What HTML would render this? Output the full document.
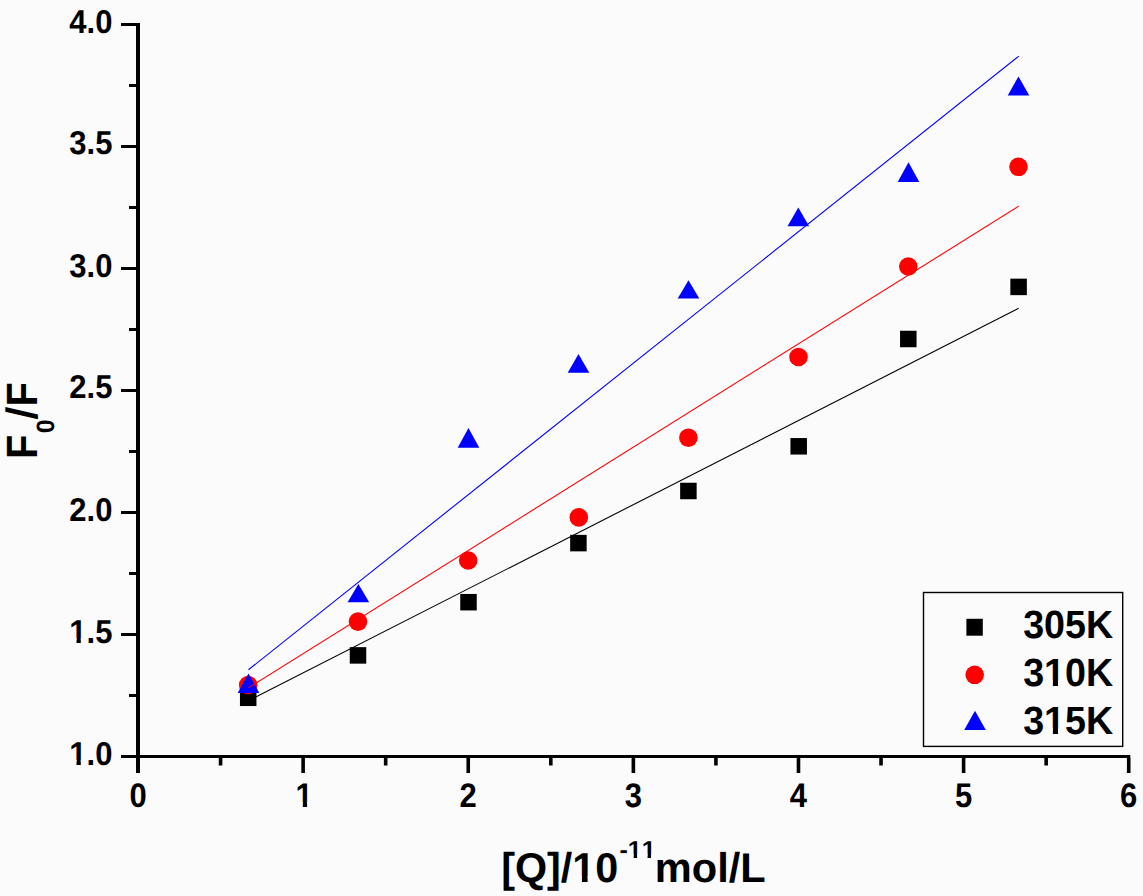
<!DOCTYPE html>
<html><head><meta charset="utf-8"><title>F0/F vs [Q]</title>
<style>
html,body{margin:0;padding:0;background:#fcfbfc;width:1143px;height:896px;overflow:hidden}
svg{display:block}
.t{font-family:"Liberation Sans",sans-serif;font-weight:bold;fill:#000;font-kerning:none;text-rendering:geometricPrecision}
</style></head><body>
<svg width="1143" height="896" viewBox="0 0 1143 896">
<rect width="1143" height="896" fill="#fcfbfc"/>
<rect x="136" y="23" width="4" height="750" fill="#000"/>
<rect x="121" y="755" width="1009.3" height="3" fill="#000"/>
<rect x="121" y="23" width="15" height="3" fill="#000"/>
<rect x="121" y="145" width="15" height="3" fill="#000"/>
<rect x="121" y="267" width="15" height="3" fill="#000"/>
<rect x="121" y="389" width="15" height="3" fill="#000"/>
<rect x="121" y="511" width="15" height="3" fill="#000"/>
<rect x="121" y="633" width="15" height="3" fill="#000"/>
<rect x="121" y="755" width="15" height="3" fill="#000"/>
<rect x="129" y="84" width="7" height="3" fill="#000"/>
<rect x="129" y="206" width="7" height="3" fill="#000"/>
<rect x="129" y="328" width="7" height="3" fill="#000"/>
<rect x="129" y="450" width="7" height="3" fill="#000"/>
<rect x="129" y="572" width="7" height="3" fill="#000"/>
<rect x="129" y="694" width="7" height="3" fill="#000"/>
<rect x="136.20" y="758" width="3.6" height="15" fill="#000"/>
<rect x="301.32" y="758" width="3.6" height="15" fill="#000"/>
<rect x="466.44" y="758" width="3.6" height="15" fill="#000"/>
<rect x="631.56" y="758" width="3.6" height="15" fill="#000"/>
<rect x="796.68" y="758" width="3.6" height="15" fill="#000"/>
<rect x="961.80" y="758" width="3.6" height="15" fill="#000"/>
<rect x="1126.92" y="758" width="3.6" height="15" fill="#000"/>
<rect x="218.76" y="758" width="3.6" height="7.5" fill="#000"/>
<rect x="383.88" y="758" width="3.6" height="7.5" fill="#000"/>
<rect x="549.00" y="758" width="3.6" height="7.5" fill="#000"/>
<rect x="714.12" y="758" width="3.6" height="7.5" fill="#000"/>
<rect x="879.24" y="758" width="3.6" height="7.5" fill="#000"/>
<rect x="1044.36" y="758" width="3.6" height="7.5" fill="#000"/>
<g transform="translate(69.31 32.80) scale(1 1.065)"><text x="0" y="0" class="t" font-size="31">4.0</text></g>
<g transform="translate(69.31 153.80) scale(1 1.065)"><text x="0" y="0" class="t" font-size="31">3.5</text></g>
<g transform="translate(69.31 276.70) scale(1 1.065)"><text x="0" y="0" class="t" font-size="31">3.0</text></g>
<g transform="translate(69.31 397.80) scale(1 1.065)"><text x="0" y="0" class="t" font-size="31">2.5</text></g>
<g transform="translate(69.31 520.80) scale(1 1.065)"><text x="0" y="0" class="t" font-size="31">2.0</text></g>
<g transform="translate(69.31 643.00) scale(1 1.065)"><text x="0" y="0" class="t" font-size="31">1.5</text><rect x="0.65" y="-4.46" width="6.58" height="5.76" fill="#fcfbfc"/><rect x="11.49" y="-4.46" width="6.19" height="5.76" fill="#fcfbfc"/></g>
<g transform="translate(69.31 764.75) scale(1 1.065)"><text x="0" y="0" class="t" font-size="31">1.0</text><rect x="0.65" y="-4.46" width="6.58" height="5.76" fill="#fcfbfc"/><rect x="11.49" y="-4.46" width="6.19" height="5.76" fill="#fcfbfc"/></g>
<g transform="translate(129.38 806.80) scale(1 1.1)"><text x="0" y="0" class="t" font-size="31">0</text></g>
<g transform="translate(295.60 806.80) scale(1 1.1)"><text x="0" y="0" class="t" font-size="31">1</text><rect x="0.65" y="-4.46" width="6.58" height="5.76" fill="#fcfbfc"/><rect x="11.49" y="-4.46" width="6.19" height="5.76" fill="#fcfbfc"/></g>
<g transform="translate(459.62 806.80) scale(1 1.1)"><text x="0" y="0" class="t" font-size="31">2</text></g>
<g transform="translate(624.74 806.80) scale(1 1.1)"><text x="0" y="0" class="t" font-size="31">3</text></g>
<g transform="translate(789.86 806.80) scale(1 1.1)"><text x="0" y="0" class="t" font-size="31">4</text></g>
<g transform="translate(954.98 806.80) scale(1 1.1)"><text x="0" y="0" class="t" font-size="31">5</text></g>
<g transform="translate(1120.10 806.80) scale(1 1.1)"><text x="0" y="0" class="t" font-size="31">6</text></g>
<rect x="239.95" y="689.55" width="16.5" height="16.5" fill="#000"/>
<rect x="349.75" y="647.15" width="16.5" height="16.5" fill="#000"/>
<rect x="460.25" y="593.95" width="16.5" height="16.5" fill="#000"/>
<rect x="570.15" y="534.85" width="16.5" height="16.5" fill="#000"/>
<rect x="680.15" y="482.75" width="16.5" height="16.5" fill="#000"/>
<rect x="790.45" y="438.05" width="16.5" height="16.5" fill="#000"/>
<rect x="900.05" y="330.75" width="16.5" height="16.5" fill="#000"/>
<rect x="1010.35" y="278.65" width="16.5" height="16.5" fill="#000"/>
<circle cx="248.20" cy="685.00" r="9.3" fill="#f00"/>
<circle cx="358.00" cy="621.60" r="9.3" fill="#f00"/>
<circle cx="468.20" cy="560.50" r="9.3" fill="#f00"/>
<circle cx="578.80" cy="517.40" r="9.3" fill="#f00"/>
<circle cx="688.40" cy="437.70" r="9.3" fill="#f00"/>
<circle cx="798.50" cy="357.00" r="9.3" fill="#f00"/>
<circle cx="908.30" cy="266.50" r="9.3" fill="#f00"/>
<circle cx="1018.50" cy="166.80" r="9.3" fill="#f00"/>
<polygon points="248.50,673.40 259.30,692.90 237.70,692.90" fill="#00f"/>
<polygon points="358.40,583.90 369.20,602.30 347.60,602.30" fill="#00f"/>
<polygon points="468.50,427.90 479.30,447.70 457.70,447.70" fill="#00f"/>
<polygon points="578.50,354.00 589.30,372.80 567.70,372.80" fill="#00f"/>
<polygon points="688.50,280.20 699.30,298.60 677.70,298.60" fill="#00f"/>
<polygon points="798.30,207.60 809.10,226.20 787.50,226.20" fill="#00f"/>
<polygon points="908.50,162.20 919.30,181.90 897.70,181.90" fill="#00f"/>
<polygon points="1018.50,76.40 1029.30,95.60 1007.70,95.60" fill="#00f"/>
<line x1="248.4" y1="700.8" x2="1018.7" y2="308.3" stroke="#000" stroke-width="1.1"/>
<line x1="248.4" y1="687.9" x2="1018.8" y2="206.1" stroke="#f00" stroke-width="1.1"/>
<line x1="248.4" y1="669.8" x2="1018.9" y2="56.1" stroke="#00f" stroke-width="1.1"/>
<rect x="923.5" y="592.5" width="199.2" height="153.9" fill="none" stroke="#000" stroke-width="1.4"/>
<rect x="966.4" y="618.8" width="16.4" height="16.9" fill="#000"/>
<circle cx="974.7" cy="674.8" r="9.3" fill="#f00"/>
<polygon points="975,710.8 985.8,730 964.2,730" fill="#00f"/>
<g transform="translate(1023.14 637.60) scale(1 1.045)"><text x="0" y="0" class="t" font-size="37.66">305K</text></g>
<g transform="translate(1023.14 685.90) scale(1 1.045)"><text x="0" y="0" class="t" font-size="37.66">310K</text><rect x="22.02" y="-5.14" width="7.72" height="6.44" fill="#fcfbfc"/><rect x="34.90" y="-5.14" width="7.24" height="6.44" fill="#fcfbfc"/></g>
<g transform="translate(1023.14 733.70) scale(1 1.045)"><text x="0" y="0" class="t" font-size="37.66">315K</text><rect x="22.02" y="-5.14" width="7.72" height="6.44" fill="#fcfbfc"/><rect x="34.90" y="-5.14" width="7.24" height="6.44" fill="#fcfbfc"/></g>
<g transform="translate(501.18 881.80) scale(1 1.01)"><text x="0" y="0" class="t" font-size="41.3">[Q]/10</text><rect x="72.41" y="-5.51" width="8.34" height="6.81" fill="#fcfbfc"/><rect x="86.41" y="-5.51" width="7.81" height="6.81" fill="#fcfbfc"/></g>
<g transform="translate(619.52 858.10) scale(1 0.975)"><text x="0" y="0" class="t" font-size="25">-11</text><rect x="8.60" y="-3.85" width="5.56" height="5.15" fill="#fcfbfc"/><rect x="17.59" y="-3.85" width="5.24" height="5.15" fill="#fcfbfc"/><rect x="22.50" y="-3.85" width="5.56" height="5.15" fill="#fcfbfc"/><rect x="31.49" y="-3.85" width="5.24" height="5.15" fill="#fcfbfc"/></g>
<g transform="translate(654.86 881.80)"><text x="0" y="0" class="t" font-size="41.6">mol/L</text></g>
<g transform="translate(36.9 456.4) rotate(-90)"><text x="-2.7" y="0" transform="scale(1 1.1)" class="t" font-size="39.8">F</text><text x="23.1" y="17.1" class="t" font-size="25">0</text><g transform="translate(36.8 0) skewX(-3.2) scale(1 1.1)"><text x="0" y="0" class="t" font-size="39.8">/</text></g><text x="49.9" y="0" transform="scale(1 1.1)" class="t" font-size="39.8">F</text></g>
</svg>
</body></html>
